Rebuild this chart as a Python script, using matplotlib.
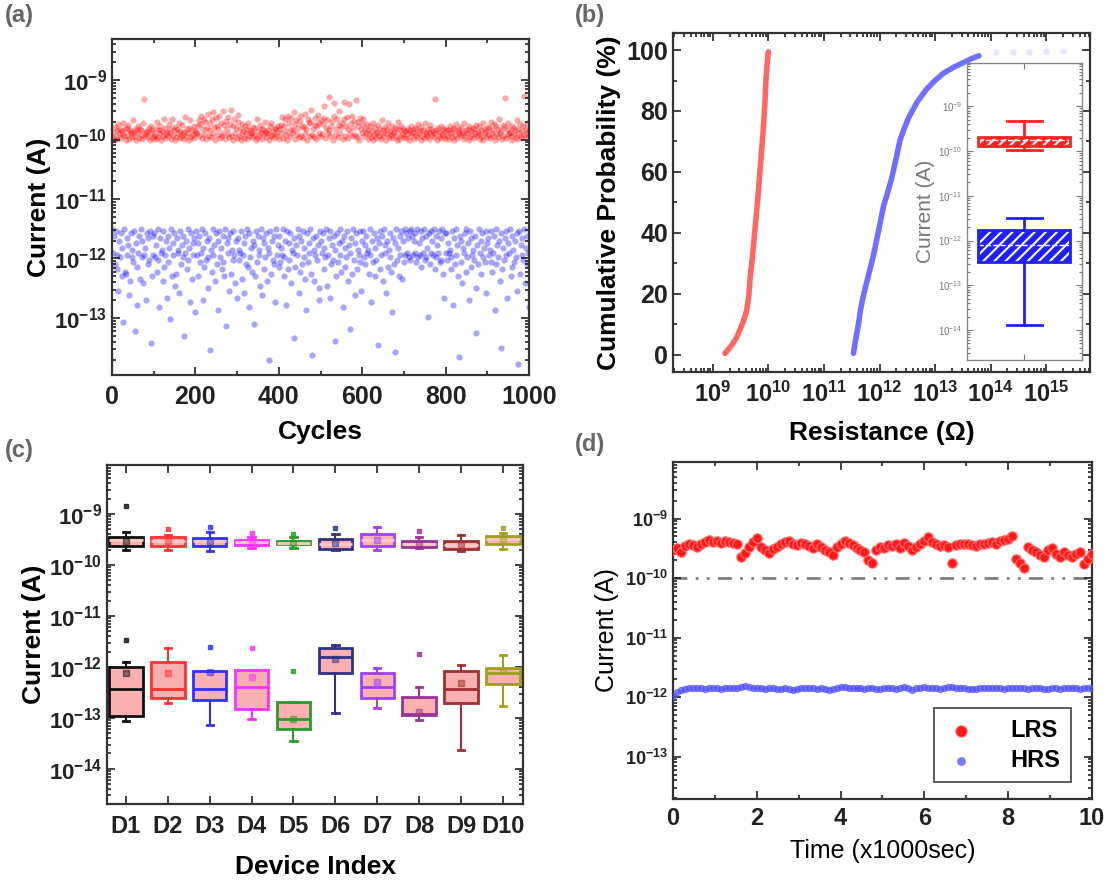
import numpy as np
import matplotlib
matplotlib.use('Agg')
import matplotlib.pyplot as plt
from matplotlib.patches import PathPatch
from matplotlib.ticker import FuncFormatter, LogLocator, MultipleLocator, NullFormatter

plt.rcParams['font.family'] = ['Liberation Sans', 'DejaVu Sans']
plt.rcParams['mathtext.fontset'] = 'custom'
plt.rcParams['mathtext.rm'] = 'Liberation Sans'
plt.rcParams['mathtext.bf'] = 'Liberation Sans:bold'
plt.rcParams['hatch.linewidth'] = 1.5

# ---------------- (a) endurance: one level code per cycle pair ----------------
# code alphabet 0-9a-zA-Z -> level k = 0..61
# LRS: log10(I) = -10 + 0.013*k ; HRS: log10(I) = -11.5 - 0.04*k
LEVELS = '0123456789abcdefghijklmnopqrstuvwxyzABCDEFGHIJKLMNOPQRSTUVWXYZ'
lrs_a_codes = ("3a0g5c1k8e2b7m4d0f6j1c9a3p5b0e8h2d6c1lQ4a7b3f0i9c25"
               "6e1n3c9h0b5q2f7a4k8d1r6c0g3e9m2b5j7a1t4d8f0p3c6h2b9"
               "9hp4ku2e7rn1fx5cl3qA8g0si6dv2m4B9j1oe7t3kC5h0r8f2wn"
               "5d0k7b2h9e1m4c8a3g6f0q2b5j9d1e7n3a8c0h4l6b2f9e5i1d"
               "8jt2hq6b0vm4es9cA1kp7f3uo5i2gx8d0rn4lC6e3sj1hw9m5p"
               "7ksH2fp9cT4ho0uL6dq3jB8gm1rN5it2eK9lv4fo6P3hn0sd8kq"
               "4e9k1c7h3b0m6f2a8j5d1p4c9g0e7l3b6i2a8f5d0n1c4h7e3b"
               "2b7e0c4h9a1f6d3k8b0g5c2m7a4e1j9d6b3R8c0f5a2i7d4b1e"
               "5c1h8a3f0e6k2b9d4g7a1m5c8e0i3b6f2d9j4a7h1c5l0e8b3g"
               "6f2n9c4k0h7e3q8b1j5gS2d6m9a4i0f7c3p1e8k5b2hU6d9l3c")
hrs_a_codes = ("0a3f1hbq5c2k8D0ij4b7sm2c9e1H6gwa3l0c5nb8u2f4d1Mk3b"
               "2c7i0dx4a9m1gb5t3e8C0k6b2oj4a9r1f7c3Ja5h0d8v2l6b4z"
               "1b6k3ea0u8g2d5pc4P9i0b7m2f5y1c8h3ek0F6a4q2j9d1bn5t"
               "4d9a1lb6r3f0gx2c8i5E7k1e3b9o0s4h6c2m8aT1j5d3fv0b7g"
               "3e8b0kc5w1h6d2n9aK4g7b0r3i5f1c8ly2e6a0jR4m9b3d7pu1"
               "5a2h8c0ob4t1f7d3L9k2e6b0i5x3g8c1m7aG4j0d6s2h9be1q5"
               "1c7f3a9jb0v5e2k8d4N6h1b3m0a7r5g9c2iz4f6Q0d8k3b1l5e"
               "0b2a4c1d03b5a2e0c6b1g4a0d3c8B2f1a5b0h3c7a1e4d0jt2a"
               "2d6a9hc1w4f0b7kS3e5n8a2i0c6u1g4b9d3pI7f0a5j2c8e1r6"
               "4b9e1ia3y0f7c5mO2h8d4b1t6a0k3g9e5c2qV1j7b4d0n8f3ax")

# ---------------- (b) cumulative probability ----------------
lrs_b_logR = [9.216, 9.28, 9.35, 9.42, 9.486, 9.55, 9.607, 9.645, 9.667, 9.71,
              9.757, 9.8, 9.835, 9.87, 9.907, 9.935, 9.955, 9.975, 9.997]
lrs_b_prob = [0.5, 1.8, 3.5, 5.5, 8.2, 11, 14.5, 19, 24.6, 32,
              41, 49.5, 57.4, 65.5, 74, 82, 90.2, 95, 99.4]
hrs_b_logR = [11.53, 11.57, 11.62, 11.66, 11.71, 11.8, 11.89, 11.98, 12.07, 12.15,
              12.22, 12.3, 12.37, 12.45, 12.53, 12.68, 12.84, 13.0, 13.16, 13.35,
              13.53, 13.66, 13.79]
hrs_b_prob = [0.5, 5, 10, 15, 19.5, 26, 32.5, 40.5, 48.6, 53.5,
              58, 64.5, 70.5, 74.5, 78, 83, 87, 90, 92.5, 94.5,
              96, 97.2, 98.1]
hrs_b_tail_logR = [14.1, 14.4, 14.7, 15.0, 15.3]
hrs_b_tail_prob = [99.3, 99.4, 99.5, 99.6, 99.7]

# (b) inset box statistics, LRS then HRS (A)
inset_q1 = [1.27e-10, 3.4e-13]
inset_med = [1.73e-10, 7.9e-13]
inset_q3 = [2.05e-10, 1.74e-12]
inset_lo = [1.07e-10, 1.3e-14]
inset_hi = [4.8e-10, 3.2e-12]

# ---------------- (c) device to device ----------------
devices = ['D1', 'D2', 'D3', 'D4', 'D5', 'D6', 'D7', 'D8', 'D9', 'D10']
dev_colors = ['#111111', '#ff3030', '#3030ff', '#ff30ff', '#2a9a2a',
              '#30308a', '#a040ff', '#993399', '#a03030', '#a0a020']
# LRS (x1e-10 A)
lrs_c_q1 = [2.36, 2.3, 2.36, 2.47, 2.58, 2.03, 2.3, 2.2, 2.03, 2.58]
lrs_c_med = [3.1, 2.9, 2.9, 2.78, 2.75, 2.58, 3.1, 2.58, 2.47, 3.18]
lrs_c_q3 = [3.6, 3.5, 3.33, 3.1, 2.95, 3.18, 4.0, 3.0, 2.95, 3.7]
lrs_c_lo = [1.96, 1.96, 1.9, 2.1, 2.1, 1.96, 1.96, 2.1, 1.9, 2.03]
lrs_c_hi = [4.5, 3.9, 4.5, 3.6, 3.5, 4.1, 5.5, 3.6, 3.9, 4.2]
lrs_c_mean = [3.0, 2.95, 2.9, 2.8, 2.75, 2.7, 3.1, 2.65, 2.5, 3.1]
lrs_c_out = [[14.0], [5.0], [5.5], [4.3], [4.1], [5.2], [], [4.7], [], [5.2]]
# HRS (x1e-13 A)
hrs_c_q1 = [1.07, 2.5, 2.2, 1.48, 0.60, 7.5, 2.5, 1.15, 1.94, 4.7]
hrs_c_med = [3.6, 3.7, 3.6, 4.0, 0.95, 15.5, 4.0, 1.2, 3.6, 7.5]
hrs_c_q3 = [9.9, 12.7, 8.2, 8.8, 2.03, 23, 7.5, 2.6, 8.2, 9.3]
hrs_c_lo = [0.85, 1.96, 0.73, 0.93, 0.35, 1.25, 1.55, 0.92, 0.235, 1.7]
hrs_c_hi = [12.6, 23, 8.2, 8.8, 2.03, 27, 9.6, 4.0, 11, 17.4]
hrs_c_mean = [7.6, 7.6, 8.0, 6.4, 0.95, 14.3, 5.0, 1.3, 4.8, 8.4]
hrs_c_out = [[34], [], [25], [23], [8.2], [], [], [18], [], []]

# ---------------- (d) retention ----------------
lrs_d = [2.93, 3.24, 2.75, 3.41, 3.69, 3.55, 3.33, 3.78, 4.03,
         4.41, 4.03, 4.19, 3.88, 4.19, 4.03, 3.88, 3.78, 2.27, 2.64,
         3.33, 4.03, 4.76, 3.33, 2.93, 2.64, 3.12, 3.33, 3.78, 4.03,
         4.19, 3.78, 3.55, 3.88, 3.69, 3.41, 3.24, 3.78, 3.33, 2.93,
         2.75, 2.42, 3.33, 3.78, 4.19, 3.88, 3.55, 3.24, 3.0, 2.75,
         2.0, 1.76, 2.93, 3.33, 3.24, 3.55, 3.41, 3.78, 3.24, 3.88,
         3.41, 2.93, 3.33, 3.78, 4.19, 4.89, 4.03, 3.69, 3.41, 3.55,
         3.33, 1.80, 3.55, 3.78, 3.69, 3.78, 3.55, 3.41, 3.69, 3.78,
         3.88, 4.03, 3.78, 4.19, 4.41, 4.58, 5.0, 2.13, 1.76, 1.45,
         3.33, 3.0, 2.75, 2.42, 2.27, 2.93, 3.24, 2.58, 2.27, 2.75,
         2.4, 2.24, 2.55, 2.72, 1.73, 2.1, 2.55]  # x1e-10 A
hrs_d = [1.05, 1.2, 1.32, 1.38, 1.42, 1.4, 1.45, 1.42, 1.38, 1.4,
         1.43, 1.4, 1.38, 1.42, 1.45, 1.4, 1.43, 1.5, 1.55, 1.48,
         1.45, 1.42, 1.4, 1.38, 1.42, 1.4, 1.36, 1.38, 1.42, 1.35,
         1.32, 1.38, 1.4, 1.42, 1.45, 1.4, 1.38, 1.42, 1.35, 1.3,
         1.38, 1.45, 1.5, 1.46, 1.42, 1.4, 1.45, 1.42, 1.38, 1.4,
         1.43, 1.38, 1.35, 1.4, 1.45, 1.42, 1.38, 1.4, 1.5, 1.42,
         1.32, 1.4, 1.45, 1.48, 1.44, 1.4, 1.42, 1.38, 1.45, 1.48,
         1.5, 1.45, 1.42, 1.4, 1.38, 1.35, 1.38, 1.4, 1.42, 1.45,
         1.43, 1.45, 1.4, 1.38, 1.4, 1.42, 1.45, 1.42, 1.4, 1.38,
         1.42, 1.45, 1.4, 1.36, 1.38, 1.42, 1.4, 1.38, 1.42, 1.45,
         1.4, 1.42, 1.38, 1.4, 1.45, 1.42]  # x1e-12 A


def log_fmt(bold=True):
    cmd = r'\mathbf' if bold else r'\mathrm'

    def f(v, pos):
        if v <= 0:
            return ''
        return '$%s{10^{%d}}$' % (cmd, int(np.round(np.log10(v))))
    return FuncFormatter(f)


def style(ax, lw=1.6):
    ax.tick_params(which='both', direction='in', top=True, right=True, width=1.2, colors='#222222')
    ax.tick_params(which='major', length=6)
    ax.tick_params(which='minor', length=3)
    for s in ax.spines.values():
        s.set_linewidth(lw)
        s.set_color('#333333')


def log_y(ax, bold=True, size=16):
    ax.set_yscale('log')
    ax.yaxis.set_major_locator(LogLocator(base=10, numticks=30))
    ax.yaxis.set_minor_locator(LogLocator(base=10, subs=np.arange(2, 10), numticks=30))
    ax.yaxis.set_minor_formatter(NullFormatter())
    ax.yaxis.set_major_formatter(log_fmt(bold))
    for lab in ax.get_yticklabels():
        lab.set_fontsize(size)


def decode(codes):
    return np.array([LEVELS.index(c) for c in codes])


fig = plt.figure(figsize=(11.07, 8.81), dpi=100)
axA = fig.add_axes([0.1012, 0.5743, 0.3767, 0.3814])
axB = fig.add_axes([0.6079, 0.5778, 0.3767, 0.3848])
axC = fig.add_axes([0.0967, 0.0874, 0.3758, 0.3848])
axD = fig.add_axes([0.6079, 0.0931, 0.3785, 0.3825])
axI = fig.add_axes([0.8735, 0.5914, 0.1039, 0.3371])

# ---------------- (a) ----------------
lrs_a = 10 ** (-10 + 0.013 * decode(lrs_a_codes))
hrs_a = 10 ** (-11.5 - 0.04 * decode(hrs_a_codes))
axA.scatter(np.linspace(1, 1000, len(lrs_a)), lrs_a, s=20, color='#ff0000', alpha=0.35, lw=0)
axA.scatter(np.linspace(1, 1000, len(hrs_a)), hrs_a, s=20, color='#0000ff', alpha=0.35, lw=0)
log_y(axA, size=16)
axA.set_ylim(10 ** -13.96, 10 ** -8.31)
axA.set_xlim(0, 1000)
axA.xaxis.set_major_locator(MultipleLocator(200))
axA.xaxis.set_minor_locator(MultipleLocator(100))
style(axA)
axA.tick_params(axis='x', labelsize=18, pad=7)
for lab in axA.get_xticklabels():
    lab.set_fontweight('bold')
axA.set_xlabel('Cycles', fontsize=19, fontweight='bold', labelpad=8)
axA.set_ylabel('Current (A)', fontsize=19, fontweight='bold', labelpad=2)

# ---------------- (b) ----------------
axB.plot(10 ** np.array(lrs_b_logR), lrs_b_prob, color='#ff4040', lw=4, alpha=0.8,
         solid_capstyle='round', solid_joinstyle='round')
axB.plot(10 ** np.array(hrs_b_logR), hrs_b_prob, color='#4040ff', lw=4, alpha=0.75,
         solid_capstyle='round', solid_joinstyle='round')
axB.scatter(10 ** np.array(hrs_b_tail_logR), hrs_b_tail_prob, s=22, color='#4040ff', alpha=0.12, lw=0)
axB.set_xscale('log')
axB.set_xlim(10 ** 8.28, 10 ** 15.79)
axB.set_ylim(-5.6, 105.6)
axB.xaxis.set_major_locator(LogLocator(base=10, numticks=30))
axB.xaxis.set_minor_locator(LogLocator(base=10, subs=np.arange(2, 10), numticks=30))
axB.xaxis.set_minor_formatter(NullFormatter())
axB.xaxis.set_major_formatter(log_fmt(True))
axB.yaxis.set_major_locator(MultipleLocator(20))
axB.yaxis.set_minor_locator(MultipleLocator(10))
style(axB)
axB.tick_params(axis='x', labelsize=17, pad=7)
axB.tick_params(axis='y', labelsize=18)
for lab in axB.get_yticklabels():
    lab.set_fontweight('bold')
axB.set_xlabel('Resistance (\u03a9)', fontsize=19, fontweight='bold', labelpad=10)
axB.set_ylabel('Cumulative Probability (%)', fontsize=19, fontweight='bold', labelpad=4)

# inset
istats = [dict(q1=inset_q1[i], med=inset_med[i], q3=inset_q3[i],
               whislo=inset_lo[i], whishi=inset_hi[i], fliers=[]) for i in range(2)]
iart = axI.bxp(istats, positions=[1, 1], widths=0.8, patch_artist=True,
               showfliers=False, capwidths=0.3)
for i, c in enumerate(['#ff2020', '#2020ff']):
    b = iart['boxes'][i]
    b.set_facecolor(c)
    b.set_edgecolor('white')
    b.set_hatch('///')
    b.set_linewidth(0)
    axI.add_patch(PathPatch(b.get_path(), transform=b.get_transform(), fill=False,
                            edgecolor=c, lw=2, zorder=3))
    iart['medians'][i].set(color='white', ls='--', lw=1)
    for w in iart['whiskers'][2 * i:2 * i + 2]:
        w.set(color=c, lw=2)
    for cp in iart['caps'][2 * i:2 * i + 2]:
        cp.set(color=c, lw=2)
axI.set_yscale('log')
axI.set_ylim(10 ** -14.67, 10 ** -8.03)
axI.set_xlim(0.5, 1.5)
axI.yaxis.set_major_locator(LogLocator(base=10, numticks=30))
axI.yaxis.set_minor_locator(LogLocator(base=10, subs=np.arange(2, 10), numticks=30))
axI.yaxis.set_minor_formatter(NullFormatter())
axI.yaxis.set_major_formatter(log_fmt(False))
axI.set_xticks([1])
axI.set_xticklabels([])
axI.tick_params(which='both', direction='in', top=True, right=True, colors='#777777', width=0.8)
axI.tick_params(which='major', length=4, labelsize=7, labelcolor='#777777')
axI.tick_params(which='minor', length=2)
for s in axI.spines.values():
    s.set_linewidth(1)
    s.set_color('#888888')
axI.set_ylabel('Current (A)', fontsize=15, color='#777777', labelpad=2)

# ---------------- (c) ----------------
pos = np.arange(1, len(devices) + 1)


def draw_boxes(ax, q1, med, q3, lo, hi, mean, out, unit, med_color=None):
    stats = [dict(q1=q1[i] * unit, med=med[i] * unit, q3=q3[i] * unit,
                  whislo=lo[i] * unit, whishi=hi[i] * unit, mean=mean[i] * unit,
                  fliers=np.array(out[i]) * unit) for i in range(len(devices))]
    art = ax.bxp(stats, positions=pos, widths=0.8, patch_artist=True,
                 showmeans=True, capwidths=0.15)
    for i, c in enumerate(dev_colors):
        art['boxes'][i].set(facecolor='#f9b0b0', edgecolor=c, linewidth=2)
        art['medians'][i].set(color=med_color or c, linewidth=2)
        for w in art['whiskers'][2 * i:2 * i + 2]:
            w.set(color=c, lw=1.5)
        for cp in art['caps'][2 * i:2 * i + 2]:
            cp.set(color=c, lw=2)
        art['fliers'][i].set(marker='s', markersize=3, markerfacecolor=c,
                             markeredgecolor=c, alpha=0.8)
        art['means'][i].set(marker='s', markersize=4, markerfacecolor=c,
                            markeredgecolor=c, alpha=0.5)


draw_boxes(axC, lrs_c_q1, lrs_c_med, lrs_c_q3, lrs_c_lo, lrs_c_hi, lrs_c_mean, lrs_c_out,
           1e-10, med_color='#ffc8c8')
draw_boxes(axC, hrs_c_q1, hrs_c_med, hrs_c_q3, hrs_c_lo, hrs_c_hi, hrs_c_mean, hrs_c_out, 1e-13)
log_y(axC, size=16)
axC.set_ylim(10 ** -14.69, 10 ** -8.04)
axC.set_xlim(0.55, 10.48)
axC.set_xticks(pos)
axC.set_xticklabels(devices, fontsize=17, fontweight='bold')
style(axC)
axC.tick_params(axis='x', pad=8)
axC.set_xlabel('Device Index', fontsize=19, fontweight='bold', labelpad=12)
axC.set_ylabel('Current (A)', fontsize=19, fontweight='bold', labelpad=2)

# ---------------- (d) ----------------
t_d = np.linspace(0, 10, len(lrs_d))
axD.axhline(1e-10, color='#808080', lw=2, ls=(0, (5, 3, 1, 3, 1, 3)), zorder=1)
axD.scatter(t_d, np.array(lrs_d) * 1e-10, s=46, color='#ff1a1a', edgecolors='#ff7070',
            linewidths=0.8, zorder=3, label='LRS')
axD.scatter(np.linspace(0, 10, len(hrs_d)), np.array(hrs_d) * 1e-12, s=28, color='#4d4dff',
            alpha=0.75, lw=0, zorder=3, label='HRS')
log_y(axD, size=13)
axD.set_ylim(10 ** -13.71, 10 ** -8.05)
axD.set_xlim(0, 10)
axD.xaxis.set_major_locator(MultipleLocator(2))
axD.xaxis.set_minor_locator(MultipleLocator(1))
style(axD)
axD.tick_params(axis='x', labelsize=17, pad=6)
for lab in axD.get_xticklabels():
    lab.set_fontweight('bold')
axD.set_xlabel('Time (x1000sec)', fontsize=18, labelpad=6)
axD.set_ylabel('Current (A)', fontsize=18, labelpad=4)
leg = axD.legend(loc='lower right', bbox_to_anchor=(0.962, 0.035), fancybox=False,
                 edgecolor='#222222', prop={'size': 17, 'weight': 'bold'},
                 handlelength=1.4, handletextpad=1.4, borderpad=0.45,
                 labelspacing=0.3, borderaxespad=0.2, markerscale=1.2)
leg.get_frame().set_linewidth(1.3)

# panel labels
for x, y, s in [(0.004, 0.995, '(a)'), (0.519, 0.995, '(b)'),
                (0.004, 0.502, '(c)'), (0.519, 0.508, '(d)')]:
    fig.text(x, y, s, fontsize=17, fontweight='bold', color='#666666', va='top')

fig.savefig('out.png', dpi=100)
